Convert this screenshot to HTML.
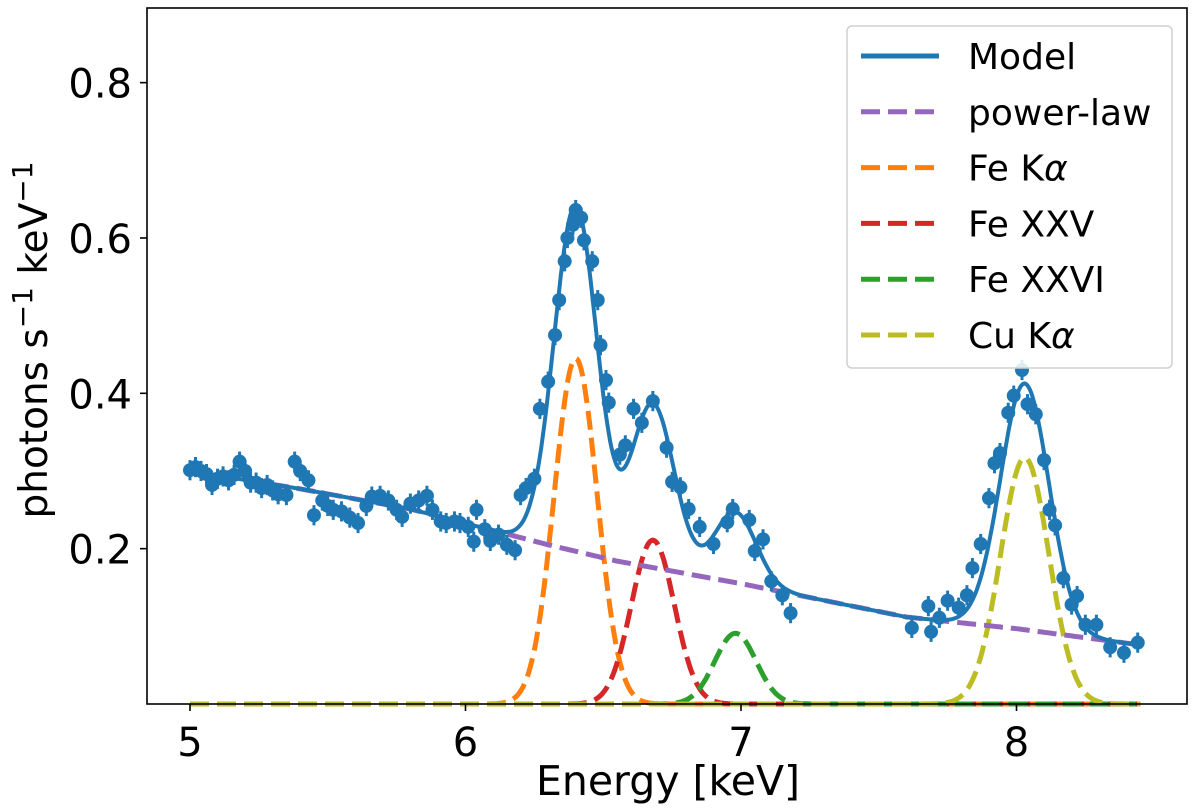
<!DOCTYPE html>
<html><head><meta charset="utf-8"><style>
html,body{margin:0;padding:0;background:#fff;}
svg{display:block;font-family:"DejaVu Sans","Liberation Sans",sans-serif;}
</style></head><body>
<svg id="chart" width="1200" height="809" viewBox="0 0 1200 809">
<g id="comp"></g>
<g id="pts"></g>
<g id="axes"></g>
<g id="legend"></g>
</svg>
<script>
// observed data
const energies = [5.00,5.02,5.04,5.06,5.08,5.10,5.12,5.14,5.16,5.18,5.20,5.22,5.24,5.26,5.28,5.30,5.32,5.35,5.38,5.40,5.43,5.45,5.48,5.50,5.52,5.55,5.58,5.61,5.64,5.66,5.69,5.72,5.75,5.77,5.80,5.83,5.86,5.88,5.91,5.93,5.96,5.98,6.01,6.03,6.04,6.07,6.09,6.12,6.15,6.18,6.20,6.22,6.25,6.27,6.30,6.325,6.34,6.36,6.37,6.39,6.40,6.42,6.43,6.46,6.48,6.49,6.51,6.52,6.56,6.58,6.61,6.64,6.68,6.73,6.75,6.78,6.81,6.85,6.90,6.95,6.97,7.03,7.05,7.08,7.11,7.15,7.18,7.62,7.68,7.69,7.72,7.75,7.79,7.82,7.84,7.87,7.90,7.92,7.94,7.97,7.99,8.02,8.04,8.07,8.10,8.12,8.14,8.17,8.20,8.22,8.25,8.29,8.34,8.39,8.44];
const rates = [0.301,0.305,0.300,0.296,0.282,0.290,0.293,0.288,0.295,0.312,0.300,0.285,0.285,0.278,0.282,0.275,0.270,0.269,0.312,0.300,0.288,0.243,0.262,0.255,0.250,0.248,0.240,0.233,0.255,0.267,0.268,0.262,0.250,0.241,0.258,0.262,0.268,0.250,0.235,0.233,0.235,0.233,0.228,0.209,0.250,0.225,0.210,0.218,0.205,0.198,0.269,0.278,0.290,0.380,0.415,0.475,0.520,0.570,0.600,0.617,0.636,0.626,0.597,0.570,0.520,0.462,0.417,0.388,0.321,0.333,0.380,0.362,0.390,0.330,0.286,0.279,0.251,0.228,0.206,0.234,0.251,0.237,0.197,0.212,0.158,0.140,0.117,0.098,0.126,0.093,0.111,0.133,0.124,0.140,0.175,0.206,0.265,0.310,0.323,0.375,0.397,0.430,0.386,0.373,0.314,0.250,0.230,0.162,0.128,0.139,0.102,0.102,0.073,0.066,0.079];
const errs = energies.map(()=>0.013);
// continuum (power-law) read at knots
const plEnergies = [5.0,5.4,5.8,6.3,6.55,7.0,7.6,8.0,8.45];
const plValues = [0.300,0.277,0.251,0.205,0.184,0.155,0.112,0.097,0.076];
// line parameters
const lineNames = ["Fe Kα","Fe XXV","Fe XXVI","Cu Kα"];
const lineCenters = [6.40,6.68,6.98,8.03];
const lineAmps = [0.445,0.211,0.091,0.317];
const lineSigmas = [0.078,0.078,0.075,0.088];
const xTicks = [5,6,7,8];
const yTicks = [0.2,0.4,0.6,0.8];

const L=147,R=1187,T=8,B=704;
const xs = e => 190 + (e-5)*275.5;
const ys = v => B - v*776.7;
const NS="http://www.w3.org/2000/svg";
function mk(tag, attrs, parent){const el=document.createElementNS(NS,tag);for(const k in attrs)el.setAttribute(k,attrs[k]);parent.appendChild(el);return el;}
const comp=document.getElementById('comp'), pts=document.getElementById('pts'), axes=document.getElementById('axes'), leg=document.getElementById('legend');
const colors=["#ff7f0e","#d62728","#2ca02c","#bcbd22"];
const DASH='19 8';
function pl(e){
  for(let k=0;k<plEnergies.length-1;k++){
    if(e<=plEnergies[k+1]||k===plEnergies.length-2){
      const t=(e-plEnergies[k])/(plEnergies[k+1]-plEnergies[k]);
      return plValues[k]+t*(plValues[k+1]-plValues[k]);
    }
  }
}
const g = (i,e) => lineAmps[i]*Math.exp(-0.5*Math.pow((e-lineCenters[i])/lineSigmas[i],2));
const grid=[]; for(let e=5.0;e<=8.4501;e+=0.005) grid.push(e);
function pathOf(f){return grid.map((e,k)=>(k?'L':'M')+xs(e).toFixed(1)+','+ys(f(e)).toFixed(1)).join('');}
lineNames.forEach((n,i)=>{
  const p=mk('path',{d:pathOf(e=>g(i,e)),fill:'none',stroke:colors[i],'stroke-width':5,'stroke-dasharray':DASH},comp);
  
  
});
const plp=mk('path',{d:pathOf(pl),fill:'none',stroke:'#9467bd','stroke-width':5,'stroke-dasharray':DASH},comp);


const mp=mk('path',{d:pathOf(e=>pl(e)+lineNames.reduce((s,_,i)=>s+g(i,e),0)),fill:'none',stroke:'#1f77b4','stroke-width':4},comp);


energies.forEach((e,i)=>{
  const x=xs(e);
  const eb=mk('line',{x1:x,x2:x,y1:ys(rates[i]-errs[i]),y2:ys(rates[i]+errs[i]),stroke:'#1f77b4','stroke-width':3},pts);
  
  
  const c=mk('circle',{cx:x,cy:ys(rates[i]),r:7,fill:'#1f77b4'},pts);
  
  
});
// axes
const fr=mk('rect',{x:L,y:T,width:R-L,height:B-T,fill:'none',stroke:'#000','stroke-width':1.6},axes);


xTicks.forEach(t=>{
  const x=xs(t);
  const tk=mk('line',{x1:x,x2:x,y1:B,y2:B+7,stroke:'#000','stroke-width':1.6},axes);
  
  
  const tx=mk('text',{x:x,y:B+52,'text-anchor':'middle','font-size':40},axes);
  tx.textContent=t;
  
  
});
yTicks.forEach(t=>{
  const y=ys(t);
  const tk=mk('line',{x1:L-7,x2:L,y1:y,y2:y,stroke:'#000','stroke-width':1.6},axes);
  
  
  const tx=mk('text',{x:L-15,y:y+15,'text-anchor':'end','font-size':40},axes);
  tx.textContent=t.toFixed(1);
  
  
});
const xt=mk('text',{x:668,y:795,'text-anchor':'middle','font-size':41},axes);
xt.textContent='Energy [keV]';


const yt=mk('text',{x:0,y:0,'text-anchor':'middle','font-size':39,transform:'translate(47,340) rotate(-90)'},axes);
yt.innerHTML='photons s<tspan dy="-15" font-size="28">−1</tspan><tspan dy="15"> keV</tspan><tspan dy="-15" font-size="28">−1</tspan>';


// legend
const lb=mk('rect',{x:847,y:26,width:325,height:342,rx:5,fill:'#fff','fill-opacity':0.85,stroke:'#d0d0d0','stroke-width':1.5},leg);


const entries=[["Model","#1f77b4",false],["power-law","#9467bd",true],["Fe K<tspan font-style='italic'>α</tspan>","#ff7f0e",true],["Fe XXV","#d62728",true],["Fe XXVI","#2ca02c",true],["Cu K<tspan font-style='italic'>α</tspan>","#bcbd22",true]];
entries.forEach((en,i)=>{
  const y=56+i*55.8;
  const gg=mk('g',{},leg);
  
  
  const ln=mk('line',{x1:861,x2:939,y1:y,y2:y,stroke:en[1],'stroke-width':5},gg);
  if(en[2]) ln.setAttribute('stroke-dasharray',DASH);
  const tx=mk('text',{x:968,y:y+13,'font-size':36},gg);
  tx.innerHTML=en[0];
});
</script>
</body></html>
